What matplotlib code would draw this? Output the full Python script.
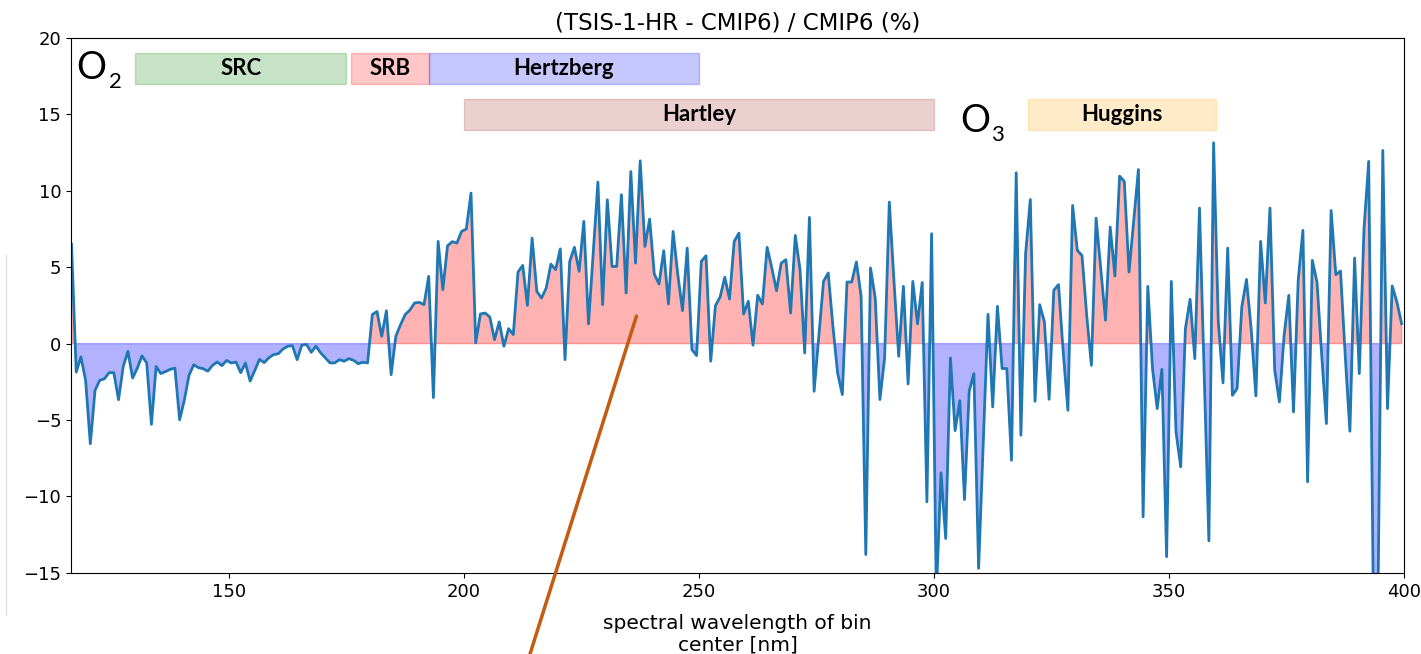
import numpy as np
import matplotlib
matplotlib.use('Agg')
import matplotlib.pyplot as plt
from matplotlib.patches import Rectangle
from matplotlib.lines import Line2D

# 1 nm bins, centres from 116.5 to 399.5 nm
wavelength = np.arange(116.5, 400, 1.0)

# relative difference (TSIS-1-HR - CMIP6) / CMIP6 in %
rel_diff = np.array([
    6.5, -1.86, -0.87, -2.4, -6.55, -3.06, -2.4, -2.3, -1.9, -1.9,
    -3.67, -1.5, -0.5, -2.25, -1.6, -0.8, -1.27, -5.28, -1.5, -1.96,
    -1.83, -1.68, -1.6, -4.98, -3.7, -2.07, -1.38, -1.57, -1.64, -1.8,
    -1.42, -1.2, -1.44, -1.1, -1.27, -1.2, -1.9, -1.27, -2.45, -1.75,
    -1.03, -1.24, -0.92, -0.72, -0.66, -0.35, -0.17, -0.13, -1.05, -0.1,
    -0.05, -0.57, -0.17, -0.6, -0.93, -1.26, -1.26, -1.05, -1.15, -0.98,
    -1.09, -1.31, -1.22, -1.26, 1.9, 2.1, 0.48, 2.15, -2.03, 0.48,
    1.24, 1.9, 2.2, 2.66, 2.7, 2.55, 4.4, -3.53, 6.69, 3.53,
    6.4, 6.67, 6.58, 7.34, 7.5, 9.85, 0.05, 1.94, 2.0, 1.74,
    0.26, 1.42, -0.17, 0.98, 0.59, 4.68, 5.12, 2.5, 6.9, 3.42,
    2.98, 3.64, 5.2, 4.84, 6.2, -1.05, 5.38, 6.3, 4.73, 8.0,
    1.29, 5.9, 10.57, 2.55, 9.41, 5.05, 5.05, 9.74, 3.31, 11.26,
    5.27, 11.96, 6.36, 8.15, 4.55, 3.9, 6.08, 2.59, 7.34, 4.51,
    2.16, 6.25, -0.39, -0.78, 5.38, 5.75, -1.15, 2.48, 3.05, 4.34,
    2.92, 6.69, 7.23, 1.94, 2.77, -0.1, 3.16, 2.59, 6.3, 4.95,
    3.46, 5.27, 5.49, 2.0, 7.08, 4.84, -0.61, 8.26, -3.12, 0.48,
    4.07, 4.62, 1.13, -1.92, -3.33, 4.03, 4.03, 5.34, 3.09, -13.8,
    4.95, 2.98, -3.66, -0.94, 9.26, 4.07, -0.83, 3.75, -2.64, 4.07,
    1.29, 4.0, -10.35, 7.19, -16.5, -8.45, -12.75, -0.94, -5.69, -3.73,
    -10.2, -3.1, -1.96, -14.7, -6.4, 1.92, -4.14, 2.44, -1.63, -1.63,
    -7.63, 11.18, -5.99, 5.88, 9.43, -3.77, 2.55, 1.42, -3.64, 3.49,
    3.86, -0.54, -4.36, 9.04, 6.1, 5.77, 1.85, -1.42, 8.21, 4.9,
    1.53, 7.63, 4.42, 10.96, 10.61, 4.68, 8.0, 11.39, -11.33, 3.75,
    -1.63, -4.25, -1.68, -13.94, 4.07, -5.77, -8.06, 0.98, 2.9, -0.98,
    8.87, -2.0, -12.9, 13.14, 1.42, -2.57, 6.25, -3.38, -2.94, 2.4,
    4.2, 0.94, -3.42, 6.69, 2.66, 8.87, -1.74, -3.81, 0.54, 3.16,
    -4.47, 4.14, 7.41, -9.04, 5.45, 4.03, -0.76, -5.23, 8.71, 4.51,
    4.75, -0.76, -5.73, 5.6, -1.96, 7.52, 11.92, -17.0, -16.0, 12.64,
    -4.25, 3.77, 2.72, 1.31,
])

# absorption bands: O2 on the top row, O3 below
band_names = ['SRC', 'SRB', 'Hertzberg', 'Hartley', 'Huggins']
band_start = [130, 176, 192.5, 200, 320]
band_end = [175, 192.5, 250, 300, 360]
band_bottom = [17, 17, 17, 14, 14]
band_colors = ['green', 'red', 'blue', 'brown', 'orange']

fig = plt.figure(figsize=(14.21, 6.54), dpi=100)
ax = fig.add_axes([0.050, 0.124, 0.938, 0.818])

ax.fill_between(wavelength, rel_diff, 0, where=rel_diff >= 0,
                color='red', alpha=0.3, interpolate=True)
ax.fill_between(wavelength, rel_diff, 0, where=rel_diff <= 0,
                color='blue', alpha=0.3, interpolate=True)
ax.plot(wavelength, rel_diff, color='#1f77b4', lw=2)

for name, s, e, b, c in zip(band_names, band_start, band_end, band_bottom, band_colors):
    ax.add_patch(Rectangle((s, b), e - s, 2, facecolor=c, edgecolor=c, alpha=0.22, lw=1))
    ax.text((s + e) / 2, b + 1, name, ha='center', va='center',
            family='Lato', fontweight='bold', fontsize=16)

ax.text(117.6, 17.3, 'O', family='Lato', fontsize=27, ha='left', va='baseline')
ax.text(124.4, 16.7, '2', family='Lato', fontsize=16, ha='left', va='baseline')
ax.text(305.6, 13.86, 'O', family='Lato', fontsize=27, ha='left', va='baseline')
ax.text(312.2, 13.27, '3', family='Lato', fontsize=16, ha='left', va='baseline')

ax.set_xlim(116.4, 400)
ax.set_ylim(-15, 20)
ax.set_xticks([150, 200, 250, 300, 350, 400])
ax.set_yticks([-15, -10, -5, 0, 5, 10, 15, 20])
ax.tick_params(labelsize=13)
ax.set_title('(TSIS-1-HR - CMIP6) / CMIP6 (%)', fontsize=16.5)
ax.set_xlabel('spectral wavelength of bin\ncenter [nm]', fontsize=14.5, labelpad=9.5)

# pointer line running off the bottom of the figure
ax.annotate('', xy=(236.7, 1.8), xycoords='data',
            xytext=(530 / 1421, 0.0), textcoords='figure fraction',
            arrowprops=dict(arrowstyle='-', color='#c55a11', lw=2.5,
                            shrinkA=0, shrinkB=0),
            annotation_clip=False)

fig.add_artist(Line2D([6 / 1421, 6 / 1421], [1 - 255 / 654, 1 - 615 / 654],
                      color='#e2e2e2', lw=1))

fig.savefig('out.png', dpi=100)
